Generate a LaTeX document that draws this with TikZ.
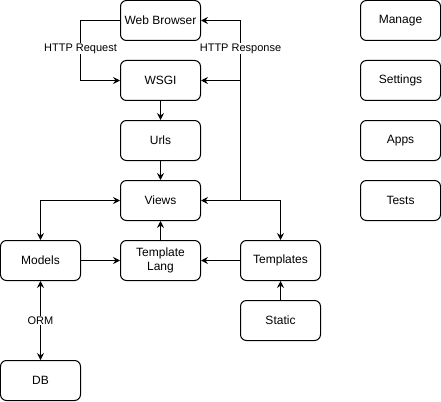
\documentclass[tikz,border=0pt]{standalone}
\usepackage{fontspec}
\setmainfont{Liberation Sans}
\usetikzlibrary{arrows.meta}
\begin{document}
\begin{tikzpicture}[x=1pt,y=-1pt,
  box/.style={draw=black,line width=1pt,rounded corners=6pt,minimum width=80pt,minimum height=40pt,inner sep=0pt,align=center,font=\fontsize{12}{14}\selectfont,fill=white},
  conn/.style={line width=1pt,-{Stealth[length=7pt,width=7pt,inset=2.5pt]}},
  bconn/.style={line width=1pt,{Stealth[length=7pt,width=7pt,inset=2.5pt]}-{Stealth[length=7pt,width=7pt,inset=2.5pt]}},
  lbl/.style={fill=white,inner sep=1pt,font=\fontsize{11}{13}\selectfont}]
\useasboundingbox (-0.5,-0.5) rectangle (440.5,400.5);
\node[box] (web) at (160,20) {Web Browser};
\node[box] (wsgi) at (160,80) {WSGI};
\node[box] (urls) at (160,140) {Urls};
\node[box] (views) at (160,200) {Views};
\node[box] (models) at (40,260) {Models};
\node[box] (tlang) at (160,260) {Template\\Lang};
\node[box] (templates) at (280,260) {Templates};
\node[box] (static) at (280,320) {Static};
\node[box] (db) at (40,380) {DB};
\node[box] (manage) at (400,20) {Manage};
\node[box] (settings) at (400,80) {Settings};
\node[box] (apps) at (400,140) {Apps};
\node[box] (tests) at (400,200) {Tests};
\coordinate (rj) at (240,200);
\coordinate (wj) at (240,80);
\draw[conn] (web.west) -- (80,20) -- (80,80) -- (wsgi.west);
\node[lbl] (lreq) at (80,48) {HTTP Request};
\draw[line width=1pt] (rj) -- (240,20);
\draw[conn] (240,20) -- (web.east);
\draw[conn] (wj) -- (wsgi.east);
\node[lbl] (lres) at (240,48) {HTTP Response};
\draw[conn] (wsgi) -- (urls);
\draw[conn] (urls) -- (views);
\draw[bconn] (views.east) -- (280,200) -- (templates.north);
\draw[bconn] (views.west) -- (40,200) -- (models.north);
\draw[conn] (models) -- (tlang);
\draw[conn] (templates) -- (tlang);
\draw[conn] (tlang) -- (views);
\draw[conn] (static) -- (templates);
\draw[bconn] (models) -- (db) node[lbl,midway] (lorm) {ORM};
\end{tikzpicture}
\end{document}
